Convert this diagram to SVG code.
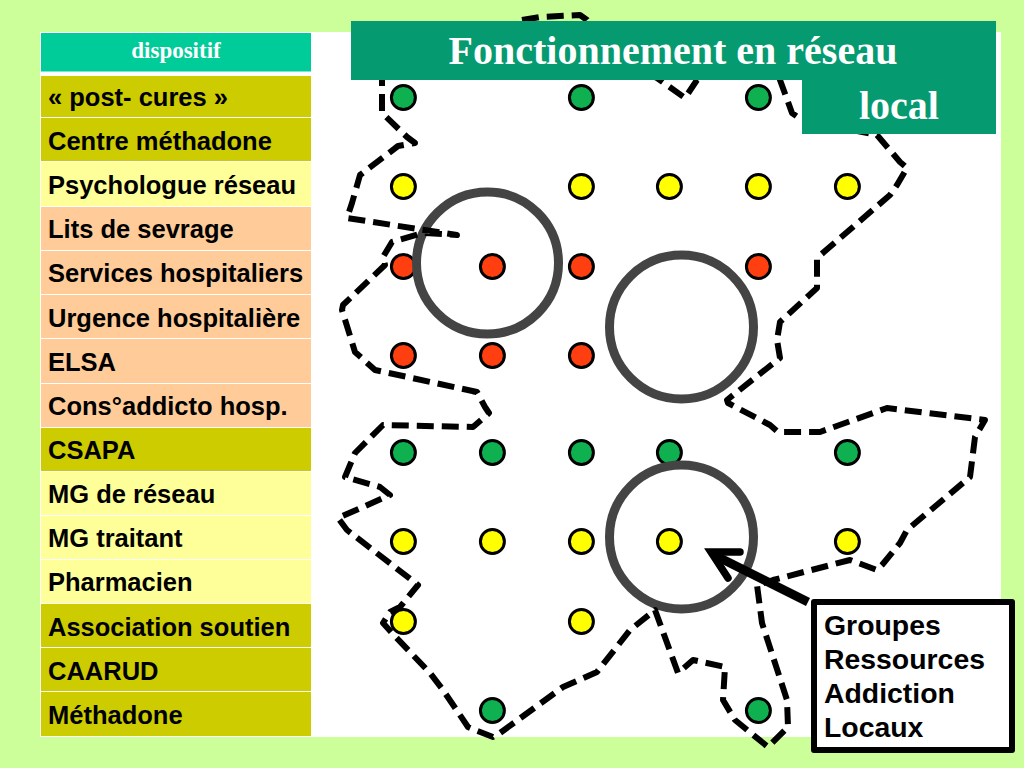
<svg xmlns="http://www.w3.org/2000/svg" width="1024" height="768" viewBox="0 0 1024 768">
<style>
.o{fill:#CCCC00}.y{fill:#FFFF99}.p{fill:#FFCC99}
.t{font:bold 25.500px "Liberation Sans",Arial,sans-serif;fill:#000}
.g{fill:#0FB04F}.ye{fill:#FFFF00}.r{fill:#FF3F0F}
circle.d{r:12px;stroke:#000;stroke-width:3}
.ring{fill:none;stroke:#444;stroke-width:9}
.ban{fill:#069A70}
.bt{font:bold 40px "Liberation Serif","Times New Roman",serif;fill:#fff;text-anchor:middle}
.bx{font:bold 28.400px "Liberation Sans",Arial,sans-serif;fill:#000}
</style>
<rect width="1024" height="768" fill="#CCFF99"/>
<rect x="40" y="32" width="961" height="705" fill="#fff"/>
<g id="table">
<rect x="41" y="33" width="270" height="38.500" fill="#00CC99"/>
<text x="176" y="58" font-family="Liberation Serif,serif" font-weight="bold" font-size="23" fill="#fff" text-anchor="middle">dispositif</text>
<rect class="o" x="41" y="76" width="270" height="41"/><text class="t" x="48" y="106">« post- cures »</text>
<rect class="o" x="41" y="118" width="270" height="43"/><text class="t" x="48" y="150">Centre méthadone</text>
<rect class="y" x="41" y="162" width="270" height="44"/><text class="t" x="48" y="194">Psychologue réseau</text>
<rect class="p" x="41" y="207" width="270" height="43"/><text class="t" x="48" y="238">Lits de sevrage</text>
<rect class="p" x="41" y="251" width="270" height="43"/><text class="t" x="48" y="282">Services hospitaliers</text>
<rect class="p" x="41" y="295" width="270" height="43"/><text class="t" x="48" y="327">Urgence hospitalière</text>
<rect class="p" x="41" y="339" width="270" height="44"/><text class="t" x="48" y="371">ELSA</text>
<rect class="p" x="41" y="384" width="270" height="43"/><text class="t" x="48" y="415">Cons°addicto hosp.</text>
<rect class="o" x="41" y="428" width="270" height="43"/><text class="t" x="48" y="459">CSAPA</text>
<rect class="y" x="41" y="472" width="270" height="43"/><text class="t" x="48" y="503">MG de réseau</text>
<rect class="y" x="41" y="516" width="270" height="43"/><text class="t" x="48" y="547">MG traitant</text>
<rect class="y" x="41" y="560" width="270" height="43"/><text class="t" x="48" y="591">Pharmacien</text>
<rect class="o" x="41" y="604" width="270" height="43"/><text class="t" x="48" y="636">Association soutien</text>
<rect class="o" x="41" y="648" width="270" height="43"/><text class="t" x="48" y="680">CAARUD</text>
<rect class="o" x="41" y="692" width="270" height="44"/><text class="t" x="48" y="724">Méthadone</text>
</g>
<g id="dots" transform="translate(0.4 0.5)">
<circle class="d g" cx="403" cy="97"/><circle class="d g" cx="581" cy="97"/><circle class="d g" cx="758" cy="97"/>
<circle class="d ye" cx="403" cy="186"/><circle class="d ye" cx="581" cy="186"/><circle class="d ye" cx="669" cy="186"/><circle class="d ye" cx="758" cy="186"/><circle class="d ye" cx="847" cy="186"/>
<circle class="d r" cx="403" cy="266"/><circle class="d r" cx="492" cy="266"/><circle class="d r" cx="581" cy="266"/><circle class="d r" cx="758" cy="266"/>
<circle class="d r" cx="403" cy="355"/><circle class="d r" cx="492" cy="355"/><circle class="d r" cx="581" cy="355"/>
<circle class="d g" cx="403" cy="452"/><circle class="d g" cx="492" cy="452"/><circle class="d g" cx="581" cy="452"/><circle class="d g" cx="669" cy="452"/><circle class="d g" cx="847" cy="452"/>
<circle class="d ye" cx="403" cy="541"/><circle class="d ye" cx="492" cy="541"/><circle class="d ye" cx="581" cy="541"/><circle class="d ye" cx="669" cy="541"/><circle class="d ye" cx="847" cy="541"/>
<circle class="d ye" cx="403" cy="621"/><circle class="d ye" cx="581" cy="621"/>
<circle class="d g" cx="492" cy="710"/><circle class="d g" cx="758" cy="710"/>
</g>
<g id="rings">
<circle class="ring" cx="487.500" cy="263" r="71"/>
<circle class="ring" cx="681.500" cy="327" r="72"/>
<circle class="ring" cx="681.500" cy="537" r="72"/>
</g>
<g id="connectors">
<path fill="none" stroke="#000" stroke-width="6" stroke-dasharray="17 8" stroke-linejoin="round" d="M522 20L540 17L580 15L587 20L620 60L657 78L685 98L697 80L770 50L780 80L792 113L802 120L877 135L900 162L907 168L897 185L890 195L817 258L817 288L780 322L777 340L780 358L727 400L728 403L770 425L778 432L820 432L887 408L985 420L975 437L970 477L907 530L900 543L882 565L877 570L850 560L773 580L757 585L762 623L787 700L788 727L768 747L735 720L723 700L725 667L693 660L678 673L655 610L630 630L597 672L563 687L500 733L493 737L475 730L468 727L443 690L430 673L392 633L383 623L390 612L400 607L418 585L347 530L338 518L390 495L380 487L345 477L355 453L383 425L473 427L489 413L485 407L477 392L375 370L355 352L342 310L343 305L385 265L383 257L392 242L423 233L457 235L347 218L352 203L360 175L398 146L415 143L407 137L382 113L382 80"/>
<path fill="none" stroke="#000" stroke-width="9" d="M808 602L716 556"/>
<path fill="none" stroke="#000" stroke-width="7.500" stroke-linecap="round" stroke-linejoin="miter" stroke-miterlimit="8" d="M740 552L711 552L728 578"/>
</g>
<g id="title">
<rect class="ban" x="351" y="21" width="645" height="59"/>
<rect class="ban" x="802" y="80" width="194" height="54"/>
<text class="bt" x="673" y="64">Fonctionnement en réseau</text>
<text class="bt" x="899" y="119">local</text>
</g>
<g id="groupes">
<rect x="814" y="602" width="198" height="148" fill="#fff" stroke="#000" stroke-width="6" stroke-linejoin="round"/>
<text class="bx" x="824" y="635">Groupes</text>
<text class="bx" x="824" y="669">Ressources</text>
<text class="bx" x="824" y="703">Addiction</text>
<text class="bx" x="824" y="737">Locaux</text>
</g>
</svg>
